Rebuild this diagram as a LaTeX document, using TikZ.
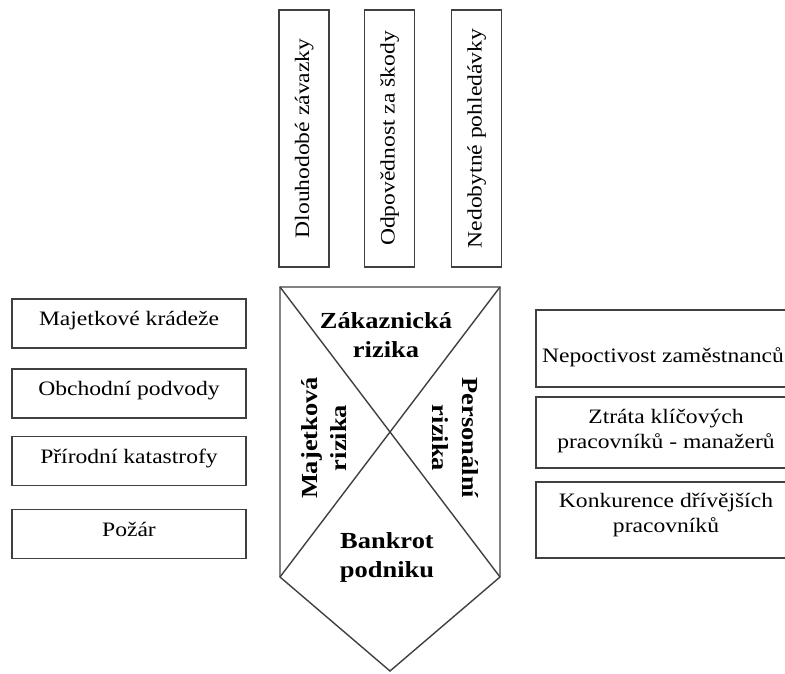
\documentclass[tikz,border=0pt]{standalone}
\usepackage{fontspec}
\setmainfont[FakeStretch=1.15]{Liberation Serif}
\newcommand\twoln[2]{\vtop{\halign{\hfil##\hfil\cr #1\cr #2\cr}}}
\begin{document}
\begin{tikzpicture}[x=1pt,y=-1pt,
  lbl/.style={font=\fontsize{20.5}{25}\selectfont},
  bld/.style={font=\fontsize{23}{29.5}\selectfont\bfseries, inner sep=0pt, anchor=base},
  box/.style={draw=black!75, line width=1.4pt, inner sep=0pt, lbl},
  lbox/.style={box, minimum width=234pt, minimum height=49pt, text height=12pt, text depth=8pt},
  tbox/.style={box, rotate=90, minimum width=257pt, minimum height=50pt, text height=15pt, text depth=5pt},
  rbox/.style={box, minimum width=260pt},
  shp/.style={draw=black!75, line width=1.4pt, line join=miter}]
\useasboundingbox (0,0) rectangle (785,673);
\clip (0,0) rectangle (785,673);

% top boxes
\node[tbox] (t1) at (304,138.5) {Dlouhodobé závazky};
\node[tbox] (t2) at (389.5,138.5) {Odpovědnost za škody};
\node[tbox] (t3) at (476.5,138.5) {Nedobytné pohledávky};

% left boxes
\node[lbox] (l1) at (129,323.5) {Majetkové krádeže};
\node[lbox] (l2) at (129,393.5) {Obchodní podvody};
\node[lbox] (l3) at (129,461) {Přírodní katastrofy};
\node[lbox] (l4) at (129,534) {Požár};

% right boxes
\node[rbox, minimum width=254pt, minimum height=77pt, text height=30pt, text depth=3pt] (r1) at (663,348.5) {Nepoctivost zaměstnanců};
\node[rbox, minimum height=71pt, text height=6pt, text depth=25pt] (r2) at (666,432.5) {\twoln{Ztráta klíčových}{pracovníků - manažerů}};
\node[rbox, minimum height=76pt, text height=5pt, text depth=31pt] (r3) at (666,520) {\twoln{Konkurence dřívějších}{pracovníků}};

% central shape
\coordinate (tl) at (280,287);
\coordinate (tr) at (500,287);
\coordinate (br) at (500,577);
\coordinate (bl) at (280,577);
\coordinate (tip) at (390,671);
\draw[shp] (tl) -- (tr) -- (br) -- (tip) -- (bl) -- cycle;
\draw[shp] (tl) -- (br);
\draw[shp] (tr) -- (bl);

\node[bld] (zak) at (386,328) {\twoln{Zákaznická}{rizika}};
\node[bld] (ban) at (387,548) {\twoln{Bankrot}{podniku}};
\node[bld, rotate=90] (maj) at (317,438) {\twoln{Majetková}{rizika}};
\node[bld, rotate=-90] (per) at (462,438) {\twoln{Personální}{rizika}};
\end{tikzpicture}
\end{document}
